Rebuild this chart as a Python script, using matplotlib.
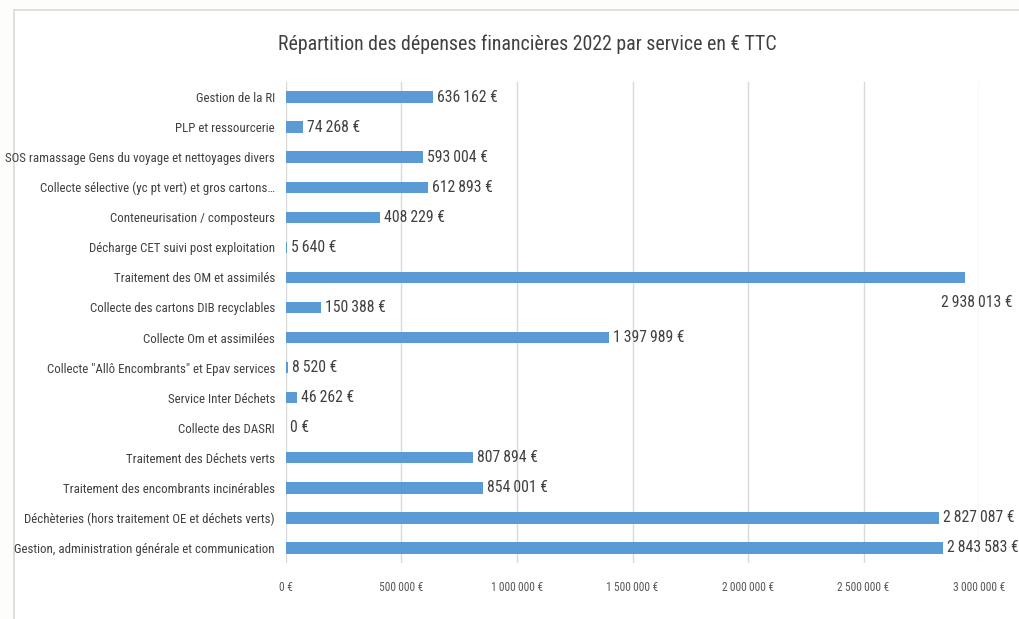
import matplotlib
matplotlib.use("Agg")
import matplotlib.pyplot as plt
import matplotlib.transforms as mtransforms
from matplotlib.patches import Rectangle
from matplotlib.ticker import FuncFormatter
from matplotlib import font_manager as fm

categories = [
    "Gestion de la RI",
    "PLP et ressourcerie",
    "SOS ramassage Gens du voyage et nettoyages divers",
    "Collecte sélective (yc pt vert) et gros cartons…",
    "Conteneurisation / composteurs",
    "Décharge CET suivi post exploitation",
    "Traitement des OM et assimilés",
    "Collecte des cartons DIB recyclables",
    "Collecte Om et assimilées",
    "Collecte \"Allô Encombrants\" et Epav services",
    "Service Inter Déchets",
    "Collecte des DASRI",
    "Traitement des Déchets verts",
    "Traitement des encombrants incinérables",
    "Déchèteries (hors traitement OE et déchets verts)",
    "Gestion, administration générale et communication",
]
values = [636162, 74268, 593004, 612893, 408229, 5640, 2938013, 150388,
          1397989, 8520, 46262, 0, 807894, 854001, 2827087, 2843583]
xticks = [0, 500000, 1000000, 1500000, 2000000, 2500000, 3000000]

regular = set(f.name for f in fm.fontManager.ttflist
              if f.style == "normal" and f.weight in (400, "normal", "regular"))
candidates = ["Open Sans Condensed", "Roboto Condensed", "Liberation Sans Narrow",
              "Archivo Narrow", "Asap Condensed", "Barlow Semi Condensed"]
chosen = [c for c in candidates if c in regular][:1]
plt.rcParams['font.family'] = chosen + ["DejaVu Sans"]
plt.rcParams['font.weight'] = "normal"

def fmt(v):
    return "{:,}".format(int(v)).replace(",", "\u2009") + " €"

fig = plt.figure(figsize=(10.2, 6.19), dpi=100)
fig.patch.set_facecolor("#fdfdfb")
fig.patches.append(Rectangle((14/1020, -0.01), 1.02, 1 - 10/619 + 0.01, transform=fig.transFigure,
                             facecolor="white", edgecolor="#d9d9d9", linewidth=1.2, zorder=-5))

ax = fig.add_axes([286/1020, 1 - 563/619, (979 - 286)/1020, (563 - 82)/619])
ax.set_facecolor("none")
n = len(categories)
ypos = list(range(n))
ax.barh(ypos, values, height=0.38, color="#5b9bd5", zorder=3)
ax.set_ylim(n - 0.5, -0.5)
ax.set_xlim(0, 3000000)
ax.set_yticks(ypos)
ax.set_yticklabels(categories, fontsize=9.3, color="#404040")
ax.set_xticks(xticks)
ax.xaxis.set_major_formatter(FuncFormatter(lambda v, p: fmt(v)))
for lab in ax.get_xticklabels():
    lab.set_fontsize(8.3)
    lab.set_color("#595959")
ax.tick_params(axis="both", length=0)
ax.tick_params(axis="y", pad=8)
ax.tick_params(axis="x", pad=13)
ax.grid(axis="x", color="#d9d9d9", linewidth=1, zorder=0)
for s in ax.spines.values():
    s.set_visible(False)

blend = mtransforms.blended_transform_factory(fig.transFigure, ax.transData)
for y, v in zip(ypos, values):
    if v > 2900000:
        fig.text(1013/1020, y + 0.85, fmt(v), fontsize=11.3, color="#404040",
                 ha="right", va="center", transform=blend)
    else:
        ax.annotate(fmt(v), (v, y), xytext=(3, 0), textcoords="offset points",
                    fontsize=11.3, color="#404040", ha="left", va="center", zorder=4)

fig.text(527.5/1020, 1 - 44/619, "Répartition des dépenses financières 2022 par service en € TTC",
         fontsize=14.3, color="#404040", ha="center", va="center")

fig.savefig("out.png", dpi=100, facecolor=fig.get_facecolor())
